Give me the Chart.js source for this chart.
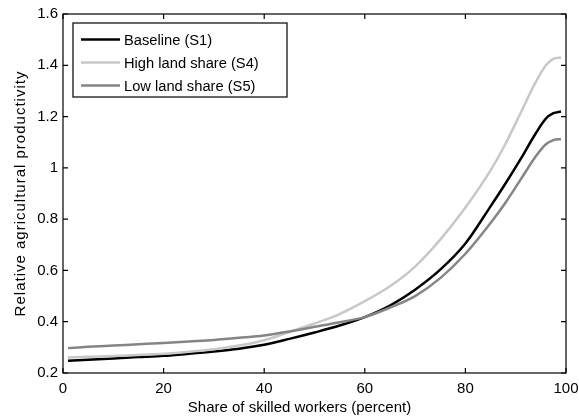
<!DOCTYPE html>
<html lang="en">
  <head>
    <meta charset="UTF-8" />
    <title>Relative agricultural productivity</title>
    <script src="https://cdn.jsdelivr.net/npm/chart.js"></script>
    <style>
      html, body { margin: 0; padding: 0; background: #fff; }
      canvas { display: block; }
    </style>
  </head>
  <body>
    <canvas id="prodChart" width="579" height="417"></canvas>

    <script>
      // share of skilled workers (percent)
      const skilledShare = [1, 5, 10, 15, 20, 25, 30, 35, 40, 45, 50, 55, 60, 65, 70, 75, 80, 85, 88, 91, 94, 96, 97.5, 99];

      // relative agricultural productivity per scenario
      const baseline = [0.248, 0.252, 0.257, 0.262, 0.267, 0.275, 0.284, 0.295, 0.31, 0.333, 0.358, 0.385, 0.418, 0.463, 0.525, 0.603, 0.705, 0.85, 0.94, 1.035, 1.135, 1.192, 1.213, 1.22];
      const highLand = [0.26, 0.263, 0.266, 0.27, 0.275, 0.283, 0.293, 0.307, 0.328, 0.36, 0.393, 0.43, 0.48, 0.538, 0.615, 0.72, 0.845, 0.99, 1.095, 1.215, 1.335, 1.40, 1.425, 1.43];
      const lowLand = [0.297, 0.302, 0.307, 0.312, 0.317, 0.323, 0.329, 0.337, 0.346, 0.362, 0.38, 0.398, 0.418, 0.455, 0.5, 0.57, 0.665, 0.785, 0.865, 0.955, 1.045, 1.092, 1.108, 1.112];

      const seriesLabels = ["Baseline (S1)", "High land share (S4)", "Low land share (S5)"];
      const seriesColors = ["#000000", "#c8c8c8", "#858585"];

      const xTitle = "Share of skilled workers (percent)";
      const yTitle = "Relative agricultural productivity";

      const FONT = '"Liberation Sans", Arial, sans-serif';

      function toPoints(ys) {
        return ys.map((y, i) => ({ x: skilledShare[i], y: y }));
      }

      // frame, inward tick marks, axis titles and boxed legend
      const framePlugin = {
        id: "frame",
        afterDraw(chart) {
          const ctx = chart.ctx;
          const a = chart.chartArea;
          const xs = chart.scales.x;
          const ys = chart.scales.y;
          const tick = 5;

          ctx.save();
          ctx.strokeStyle = "#000";
          ctx.lineWidth = 1.2;
          ctx.strokeRect(a.left, a.top, a.right - a.left, a.bottom - a.top);

          ctx.beginPath();
          xs.ticks.forEach((t) => {
            const px = xs.getPixelForValue(t.value);
            ctx.moveTo(px, a.bottom);
            ctx.lineTo(px, a.bottom - tick);
            ctx.moveTo(px, a.top);
            ctx.lineTo(px, a.top + tick);
          });
          ys.ticks.forEach((t) => {
            const py = ys.getPixelForValue(t.value);
            ctx.moveTo(a.left, py);
            ctx.lineTo(a.left + tick, py);
            ctx.moveTo(a.right, py);
            ctx.lineTo(a.right - tick, py);
          });
          ctx.stroke();

          // axis titles
          ctx.fillStyle = "#000";
          ctx.font = "15px " + FONT;
          ctx.textAlign = "center";
          ctx.textBaseline = "alphabetic";
          ctx.fillText(xTitle, 299.5, 411.5);

          ctx.save();
          ctx.translate(25, (a.top + a.bottom) / 2);
          ctx.rotate(-Math.PI / 2);
          ctx.letterSpacing = "1px";
          ctx.fillText(yTitle, 0, 0);
          ctx.restore();

          // legend
          const lx = 73, ly = 23, lw = 214, lh = 74;
          ctx.fillStyle = "#fff";
          ctx.fillRect(lx, ly, lw, lh);
          ctx.strokeStyle = "#000";
          ctx.lineWidth = 1.2;
          ctx.strokeRect(lx, ly, lw, lh);

          ctx.textAlign = "left";
          ctx.textBaseline = "middle";
          ctx.font = "14.7px " + FONT;
          chart.data.datasets.forEach((ds, i) => {
            const rowY = 39.5 + i * 23;
            ctx.strokeStyle = ds.borderColor;
            ctx.lineWidth = 2.5;
            ctx.beginPath();
            ctx.moveTo(81, rowY);
            ctx.lineTo(120, rowY);
            ctx.stroke();
            ctx.fillStyle = "#000";
            ctx.fillText(ds.label, 124, rowY + 1);
          });
          ctx.restore();
        },
      };

      const datasets = [baseline, highLand, lowLand].map((ys, i) => ({
        label: seriesLabels[i],
        data: toPoints(ys),
        borderColor: seriesColors[i],
        backgroundColor: seriesColors[i],
        borderWidth: 2.5,
        pointRadius: 0,
        fill: false,
        cubicInterpolationMode: "monotone",
        order: 3 - i,
      }));

      new Chart(document.getElementById("prodChart"), {
        type: "line",
        data: { datasets: datasets },
        options: {
          responsive: false,
          animation: false,
          devicePixelRatio: 1,
          layout: { padding: { top: 13, right: 13, left: 0, bottom: 0 } },
          scales: {
            x: {
              type: "linear",
              min: 0,
              max: 100,
              ticks: {
                stepSize: 20,
                padding: 7,
                color: "#000",
                font: { family: FONT, size: 15 },
                maxRotation: 0,
              },
              grid: { display: false, drawTicks: false },
              border: { display: false },
              afterFit: (s) => {
                s.height = 44;
                s.paddingLeft = 0;
                s.paddingRight = 0;
              },
            },
            y: {
              min: 0.2,
              max: 1.6,
              ticks: {
                stepSize: 0.2,
                padding: 5,
                color: "#000",
                font: { family: FONT, size: 15 },
                callback: (v) => String(+v.toFixed(1)),
              },
              grid: { display: false, drawTicks: false },
              border: { display: false },
              afterFit: (s) => { s.width = 63; },
            },
          },
          plugins: {
            legend: { display: false },
            tooltip: { enabled: false },
          },
        },
        plugins: [framePlugin],
      });
    </script>
  </body>
</html>
